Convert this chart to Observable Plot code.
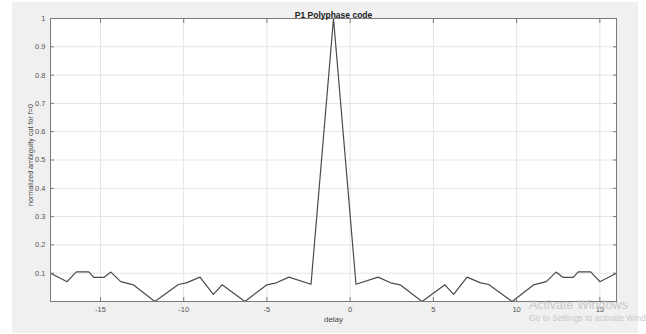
<!DOCTYPE html>
<html><head><meta charset="utf-8">
<script src="https://cdn.jsdelivr.net/npm/d3@7"></script>
<script src="https://cdn.jsdelivr.net/npm/@observablehq/plot@0.6"></script>
<style>
html,body{margin:0;padding:0;background:#fff;overflow:hidden;}
#wrap{position:relative;width:646px;height:334px;overflow:hidden;}
#panel{position:absolute;left:12px;top:2px;width:626px;height:331px;background:#f0f0f0;}
#chart{position:absolute;left:0;top:0;}
.wm{position:absolute;font-family:"Liberation Sans",Arial,sans-serif;color:#c8c8c8;white-space:nowrap;}
</style></head><body>
<div id="wrap"><div id="panel"></div><div id="chart"></div>
<div class="wm" style="left:529px;top:298px;font-size:12.5px;">Activate Windows</div>
<div class="wm" style="left:529px;top:313px;font-size:8.5px;">Go to Settings to activate Windows.</div>
</div>
<script>
const titleText = "P1 Polyphase code";
const xLabel = "delay";
const yLabel = "normalized ambiguity cut for f=0";
const delay = [-18, -17, -16.45, -15.7, -15.4, -14.8, -14.37, -13.78, -13.03, -11.73, -10.32, -9.84, -9.02, -8.22, -7.69, -6.32, -5.0, -4.43, -3.68, -2.35, -1, 0.35, 1.68, 2.43, 3.0, 4.32, 5.69, 6.22, 7.02, 7.84, 8.32, 9.73, 11.03, 11.78, 12.37, 12.8, 13.4, 13.7, 14.45, 15.0, 16];
const ambiguity = [0.10, 0.07, 0.105, 0.105, 0.085, 0.085, 0.104, 0.070, 0.059, 0, 0.060, 0.066, 0.086, 0.025, 0.059, 0, 0.059, 0.066, 0.086, 0.061, 1, 0.061, 0.086, 0.066, 0.059, 0, 0.059, 0.025, 0.086, 0.066, 0.060, 0, 0.059, 0.070, 0.104, 0.085, 0.085, 0.105, 0.105, 0.07, 0.10];
const xTicks = [-15, -10, -5, 0, 5, 10, 15];
const yTicks = [0.1, 0.2, 0.3, 0.4, 0.5, 0.6, 0.7, 0.8, 0.9, 1];

const data = delay.map((d, i) => ({delay: d, value: ambiguity[i]}));

const plot = Plot.plot({
  width: 646,
  height: 334,
  marginLeft: 50,
  marginRight: 30,
  marginTop: 18,
  marginBottom: 33,
  style: {background: "transparent", fontFamily: "'Liberation Sans', Arial, sans-serif", fontSize: "7.5px", color: "#555"},
  x: {domain: [-18, 16]},
  y: {domain: [0, 1]},
  marks: [
    Plot.frame({fill: "white", stroke: "none"}),
    Plot.gridX(xTicks, {stroke: "#e4e4e4", strokeOpacity: 1}),
    Plot.gridY(yTicks, {stroke: "#e4e4e4", strokeOpacity: 1}),
    Plot.line(data, {x: "delay", y: "value", stroke: "#4a4a4a", strokeWidth: 1.2}),
    Plot.frame({stroke: "#7a7a7a", strokeWidth: 1}),
    Plot.axisX({anchor: "bottom", ticks: xTicks, tickSize: -4, tickPadding: 9, label: null, stroke: "#7a7a7a", tickFormat: d => d}),
    Plot.axisX({anchor: "top", ticks: xTicks, tickSize: -4, label: null, stroke: "#7a7a7a", tickFormat: () => ""}),
    Plot.axisY({anchor: "left", ticks: yTicks, tickSize: -4, tickPadding: 9, label: null, stroke: "#7a7a7a", tickFormat: d => d}),
    Plot.axisY({anchor: "right", ticks: yTicks, tickSize: -4, label: null, stroke: "#7a7a7a", tickFormat: () => ""}),
    Plot.text([titleText], {frameAnchor: "top", dy: -7, fontWeight: "bold", fontSize: 8.5, fill: "#222"}),
    Plot.text([xLabel], {frameAnchor: "bottom", dy: 20, fontSize: 8, fill: "#444"}),
    Plot.text([yLabel], {frameAnchor: "left", textAnchor: "middle", dx: -20, dy: -5, rotate: -90, fontSize: 7.2, fill: "#444"})
  ]
});
document.getElementById("chart").appendChild(plot);
</script>
</body></html>
